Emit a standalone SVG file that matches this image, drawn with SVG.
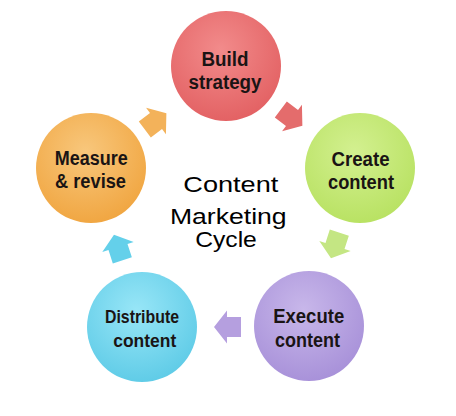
<svg xmlns="http://www.w3.org/2000/svg" width="456" height="416" viewBox="0 0 456 416">
<defs>
<radialGradient id="gRed" cx="0.45" cy="0.35" r="0.7"><stop offset="0" stop-color="#f28b8b"/><stop offset="1" stop-color="#e25f61"/></radialGradient>
<radialGradient id="gGreen" cx="0.45" cy="0.35" r="0.7"><stop offset="0" stop-color="#d3f090"/><stop offset="1" stop-color="#b7e160"/></radialGradient>
<radialGradient id="gPurple" cx="0.45" cy="0.35" r="0.7"><stop offset="0" stop-color="#c8b7ea"/><stop offset="1" stop-color="#a68fd8"/></radialGradient>
<radialGradient id="gCyan" cx="0.45" cy="0.35" r="0.7"><stop offset="0" stop-color="#98e6f7"/><stop offset="1" stop-color="#5ccae6"/></radialGradient>
<radialGradient id="gOrange" cx="0.45" cy="0.35" r="0.7"><stop offset="0" stop-color="#f8c77c"/><stop offset="1" stop-color="#f0a43e"/></radialGradient>
<polygon id="arr" points="-14,-10 0,-10 0,-16.5 13,0 0,16.5 0,10 -14,10"/>
</defs>
<style>
.lbl{font-family:"Liberation Sans",Arial,sans-serif;font-weight:bold;font-size:20px;fill:#1a1414;text-anchor:middle}
.ctr{font-family:"Liberation Sans",Arial,sans-serif;font-size:22px;fill:#000;text-anchor:middle}
</style>
<rect width="456" height="416" fill="#fff"/>
<g id="connectors">
<use href="#arr" fill="#e46c6c" transform="translate(292,118) rotate(37)"/>
<use href="#arr" fill="#c4e683" transform="translate(335,246) rotate(108)"/>
<use href="#arr" fill="#b59fdf" transform="translate(227,327) rotate(180)"/>
<use href="#arr" fill="#64d0ea" transform="translate(118,247) rotate(-108)"/>
<use href="#arr" fill="#f3b25a" transform="translate(156,121) rotate(-37)"/>
</g>
<g id="build">
<circle cx="226" cy="66" r="55" fill="url(#gRed)"/>
<text class="lbl" x="225" y="66" textLength="47" lengthAdjust="spacingAndGlyphs">Build</text>
<text class="lbl" x="225" y="89" textLength="73" lengthAdjust="spacingAndGlyphs">strategy</text>
</g>
<g id="create">
<circle cx="360" cy="168" r="55" fill="url(#gGreen)"/>
<text class="lbl" x="360.5" y="165.5" textLength="58" lengthAdjust="spacingAndGlyphs">Create</text>
<text class="lbl" x="361" y="189" textLength="66" lengthAdjust="spacingAndGlyphs">content</text>
</g>
<g id="execute">
<circle cx="309" cy="326" r="55" fill="url(#gPurple)"/>
<text class="lbl" x="308.7" y="322.7" textLength="71" lengthAdjust="spacingAndGlyphs">Execute</text>
<text class="lbl" x="307.5" y="347.3" textLength="65" lengthAdjust="spacingAndGlyphs">content</text>
</g>
<g id="distribute">
<circle cx="142" cy="327" r="55" fill="url(#gCyan)"/>
<text class="lbl" x="142" y="323" style="font-size:19px" textLength="74" lengthAdjust="spacingAndGlyphs">Distribute</text>
<text class="lbl" x="144.7" y="346.5" style="font-size:19px" textLength="63" lengthAdjust="spacingAndGlyphs">content</text>
</g>
<g id="measure">
<circle cx="91" cy="168" r="55" fill="url(#gOrange)"/>
<text class="lbl" x="91.3" y="165" textLength="73" lengthAdjust="spacingAndGlyphs">Measure</text>
<text class="lbl" x="90.5" y="188" textLength="71" lengthAdjust="spacingAndGlyphs">&amp; revise</text>
</g>
<g id="title">
<text class="ctr" x="230.8" y="191.7" textLength="95" lengthAdjust="spacingAndGlyphs">Content</text>
<text class="ctr" x="228.3" y="224" textLength="116.7" lengthAdjust="spacingAndGlyphs">Marketing</text>
<text class="ctr" x="226" y="247.3" textLength="61.7" lengthAdjust="spacingAndGlyphs">Cycle</text>
</g>
</svg>
